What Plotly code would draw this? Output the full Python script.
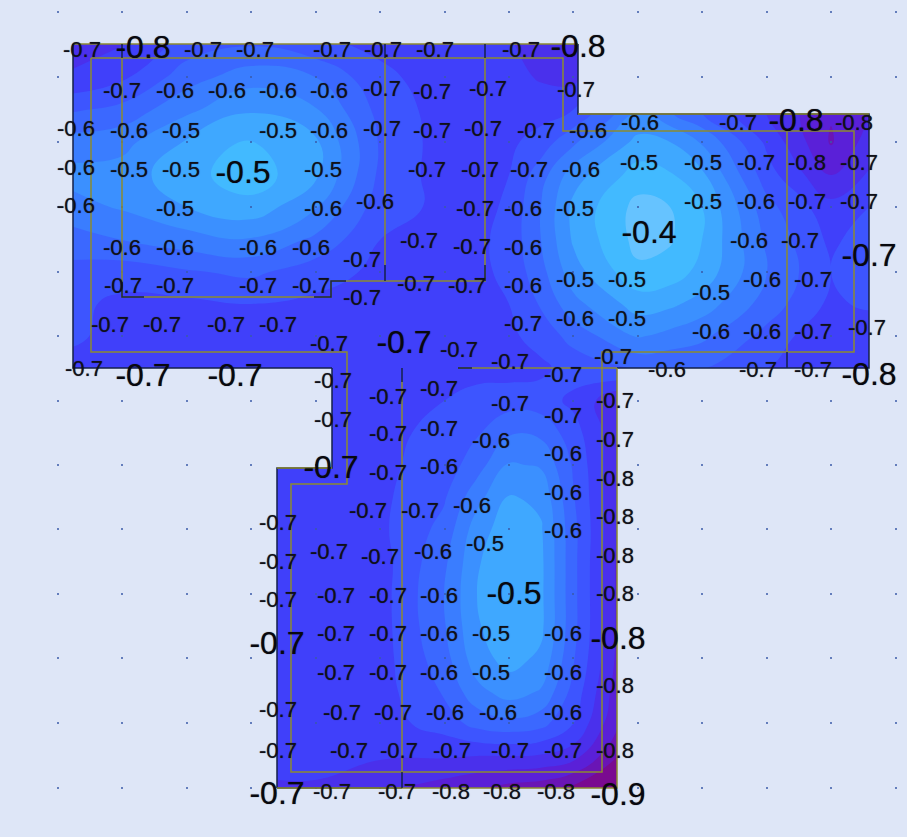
import plotly.graph_objects as go

# Field grid
grid_x = [73, 122, 187, 251, 315, 380, 444, 477, 509, 541, 573, 638, 670, 702, 767, 831, 869]
grid_y = [44, 77, 110, 142, 175, 207, 240, 272, 304, 336, 368, 401, 433, 465, 498, 530, 562, 595, 627, 660, 692, 724, 756, 788]
field_z = [
    [-.75, -.74, -.67, -.65, -.68, -.70, -.71, -.72, -.73, -.76, -.77, -.60, -.62, -.68, -.75, -.81, -.80],
    [-.73, -.70, -.62, -.575, -.60, -.68, -.71, -.71, -.72, -.74, -.75, -.58, -.60, -.66, -.75, -.81, -.79],
    [-.65, -.63, -.565, -.515, -.55, -.66, -.71, -.71, -.71, -.71, -.69, -.56, -.60, -.65, -.74, -.82, -.78],
    [-.58, -.57, -.505, -.46, -.50, -.65, -.71, -.71, -.70, -.67, -.61, -.495, -.51, -.56, -.70, -.83, -.76],
    [-.54, -.535, -.48, -.44, -.50, -.655, -.71, -.71, -.69, -.62, -.53, -.445, -.46, -.50, -.67, -.78, -.73],
    [-.57, -.55, -.51, -.48, -.55, -.67, -.70, -.71, -.68, -.60, -.50, -.405, -.42, -.465, -.63, -.72, -.69],
    [-.62, -.60, -.575, -.56, -.61, -.69, -.70, -.70, -.675, -.60, -.505, -.405, -.415, -.465, -.61, -.70, -.665],
    [-.66, -.67, -.65, -.635, -.67, -.70, -.70, -.70, -.68, -.615, -.53, -.43, -.44, -.48, -.60, -.69, -.66],
    [-.68, -.70, -.70, -.69, -.70, -.70, -.70, -.70, -.69, -.64, -.57, -.49, -.50, -.53, -.62, -.70, -.68],
    [-.68, -.71, -.71, -.71, -.71, -.70, -.70, -.70, -.70, -.67, -.63, -.55, -.57, -.59, -.66, -.73, -.73],
    [-.71, -.72, -.72, -.72, -.71, -.70, -.70, -.70, -.71, -.70, -.67, -.64, -.64, -.64, -.69, -.72, -.73],
    [-.72, -.72, -.72, -.70, -.70, -.70, -.69, -.68, -.665, -.67, -.70, -.80, -.85, -.85, -.85, -.85, -.85],
    [-.72, -.72, -.72, -.70, -.70, -.70, -.68, -.65, -.605, -.61, -.67, -.81, -.85, -.85, -.85, -.85, -.85],
    [-.72, -.72, -.72, -.70, -.70, -.70, -.67, -.62, -.55, -.56, -.65, -.83, -.85, -.85, -.85, -.85, -.85],
    [-.72, -.72, -.72, -.70, -.70, -.70, -.65, -.57, -.505, -.52, -.64, -.84, -.85, -.85, -.85, -.85, -.85],
    [-.72, -.72, -.72, -.70, -.70, -.70, -.63, -.53, -.485, -.505, -.63, -.85, -.85, -.85, -.85, -.85, -.85],
    [-.72, -.72, -.72, -.70, -.70, -.71, -.61, -.515, -.475, -.50, -.63, -.86, -.85, -.85, -.85, -.85, -.85],
    [-.72, -.72, -.72, -.70, -.70, -.71, -.60, -.51, -.475, -.50, -.63, -.86, -.85, -.85, -.85, -.85, -.85],
    [-.72, -.72, -.72, -.70, -.70, -.71, -.605, -.515, -.48, -.50, -.63, -.86, -.85, -.85, -.85, -.85, -.85],
    [-.72, -.72, -.72, -.70, -.70, -.71, -.62, -.53, -.495, -.52, -.64, -.86, -.85, -.85, -.85, -.85, -.85],
    [-.72, -.72, -.72, -.70, -.70, -.71, -.64, -.57, -.535, -.56, -.66, -.87, -.85, -.85, -.85, -.85, -.85],
    [-.72, -.72, -.72, -.71, -.71, -.71, -.67, -.63, -.615, -.63, -.69, -.88, -.85, -.85, -.85, -.85, -.85],
    [-.72, -.72, -.72, -.72, -.72, -.73, -.73, -.735, -.735, -.74, -.76, -.92, -.85, -.85, -.85, -.85, -.85],
    [-.72, -.72, -.72, -.74, -.74, -.77, -.80, -.82, -.84, -.85, -.88, -.98, -.85, -.85, -.85, -.85, -.85],
]
band_colors = ["#7a0a90", "#6a15b5", "#5a20d8", "#4a30ec", "#4040fa", "#3d55ff",
               "#3b68ff", "#3a7dff", "#3b90ff", "#3fa8ff", "#42baff", "#66c3ff"]

# Regions outside the slab outline
outside_x = [578, 871, 871, 578, 578, None, 617, 871, 871, 617, 617, None,
             275, 332, 332, 275, 275, None, 71, 277, 277, 71, 71]
outside_y = [42, 42, 114, 114, 42, None, 368, 368, 790, 790, 368, None,
             368, 368, 468, 468, 368, None, 368, 368, 790, 790, 368]

# Outline parts
dark_x = [578, 578, 869, 869, 617, None, 332, 73, 73, None, 332, 332, 277, 277, None, 277, 402]
dark_y = [44, 114, 114, 368, 368, None, 368, 368, 44, None, 368, 468, 468, 788, None, 788, 788]
olive_outer_x = [73, 578, None, 578, 869, None, 617, 617, 277, None, 277, 332, None, 458, 617]
olive_outer_y = [44, 44, None, 114, 114, None, 368, 788, 788, None, 468, 468, None, 368, 368]
inner_x = [91, 563, 563, 854, 854, 602, 602, 291, 291, 347, 347, 91, 91]
inner_y = [58, 58, 131, 131, 352, 352, 772, 772, 484, 484, 352, 352, 58]
wall_x = [122, 122, 331, 331, 485, 485, None, 385, 385, None, 402, 402, None, 787, 787]
wall_y = [58, 297, 297, 281, 281, 58, None, 58, 265, None, 380, 772, None, 131, 352]
tick_x = [122, 122, None, 122, 122, 144, None, 314, 331, 331, 346, None, 385, 385, None, 485, 485, None,
          385, 385, None, 485, 485, None, 787, 787, None, 402, 402, None, 402, 402, None, 458, 472]
tick_y = [44, 58, None, 282, 297, 297, None, 297, 297, 281, 281, None, 44, 58, None, 44, 58, None,
          265, 281, None, 265, 281, None, 352, 368, None, 368, 382, None, 772, 788, None, 368, 368]

# Background lattice
lattice_x = [58, 122, 187, 251, 316, 380, 445, 509, 573, 638, 702, 767, 831, 896]
lattice_y = [12, 77, 142, 207, 272, 336, 401, 465, 529, 594, 658, 723, 788]

# Small value labels
small_x = [82, 203, 255, 332, 383, 435, 521,
           122, 175, 227, 278, 329, 382, 432, 488, 576,
           76, 129, 181, 278, 329, 382, 432, 483, 536, 588, 640, 738, 854,
           76, 129, 181, 323, 427, 480, 529, 581, 639, 703, 756, 807, 859,
           76, 175, 323, 375, 475, 523, 575, 703, 756, 807, 859,
           122, 175, 258, 311, 419, 472, 523, 749, 800,
           123, 175, 258, 311, 362, 416, 467, 523, 575, 627, 711, 762, 813, 362,
           110, 162, 226, 278, 523, 575, 627, 711, 762, 813, 867,
           329, 459, 510, 613, 563, 667, 758, 813, 84, 333,
           388, 439, 510, 563, 615, 333, 388, 439, 491, 563, 615,
           388, 439, 615, 563, 368, 420, 472, 563, 615,
           278, 329, 380, 433, 485, 615, 278,
           278, 336, 388, 439, 615,
           336, 388, 439, 491, 563,
           336, 388, 439, 491, 563, 615,
           278, 342, 393, 445, 498, 563,
           278, 349, 399, 452, 510, 563, 615,
           332, 397, 451, 502, 556]
small_y = [51, 51, 51, 51, 51, 51, 51,
           92, 92, 92, 92, 92, 90, 93, 90, 91,
           130, 132, 132, 132, 132, 130, 132, 130, 132, 132, 124, 124, 124,
           169, 171, 171, 171, 171, 171, 171, 171, 164, 164, 164, 164, 164,
           207, 210, 210, 203, 210, 210, 210, 203, 203, 203, 203,
           249, 249, 249, 249, 242, 248, 249, 242, 242,
           287, 287, 287, 287, 261, 285, 287, 287, 281, 281, 294, 281, 281, 299,
           326, 326, 326, 326, 325, 320, 320, 333, 333, 333, 329,
           345, 351, 363, 358, 376, 371, 371, 371, 370, 382,
           398, 390, 405, 417, 402, 421, 435, 430, 442, 455, 441,
           474, 468, 480, 494, 512, 512, 507, 532, 518,
           524, 553, 558, 553, 545, 557, 563,
           601, 597, 597, 597, 595,
           635, 635, 635, 635, 635,
           674, 674, 674, 674, 674, 687,
           711, 714, 714, 714, 714, 714,
           752, 752, 752, 752, 752, 752, 752,
           793, 793, 793, 793, 793]
small_text = ["-0.7", "-0.7", "-0.7", "-0.7", "-0.7", "-0.7", "-0.7",
              "-0.7", "-0.6", "-0.6", "-0.6", "-0.6", "-0.7", "-0.7", "-0.7", "-0.7",
              "-0.6", "-0.6", "-0.5", "-0.5", "-0.6", "-0.7", "-0.7", "-0.7", "-0.7", "-0.6", "-0.6", "-0.7", "-0.8",
              "-0.6", "-0.5", "-0.5", "-0.5", "-0.7", "-0.7", "-0.7", "-0.6", "-0.5", "-0.5", "-0.7", "-0.8", "-0.7",
              "-0.6", "-0.5", "-0.6", "-0.6", "-0.7", "-0.6", "-0.5", "-0.5", "-0.6", "-0.7", "-0.7",
              "-0.6", "-0.6", "-0.6", "-0.6", "-0.7", "-0.7", "-0.6", "-0.6", "-0.7",
              "-0.7", "-0.7", "-0.7", "-0.7", "-0.7", "-0.7", "-0.7", "-0.6", "-0.5", "-0.5", "-0.5", "-0.6", "-0.7", "-0.7",
              "-0.7", "-0.7", "-0.7", "-0.7", "-0.7", "-0.6", "-0.5", "-0.6", "-0.6", "-0.7", "-0.7",
              "-0.7", "-0.7", "-0.7", "-0.7", "-0.7", "-0.6", "-0.7", "-0.7", "-0.7", "-0.7",
              "-0.7", "-0.7", "-0.7", "-0.7", "-0.7", "-0.7", "-0.7", "-0.7", "-0.6", "-0.6", "-0.7",
              "-0.7", "-0.6", "-0.8", "-0.6", "-0.7", "-0.7", "-0.6", "-0.6", "-0.8",
              "-0.7", "-0.7", "-0.7", "-0.6", "-0.5", "-0.8", "-0.7",
              "-0.7", "-0.7", "-0.7", "-0.6", "-0.8",
              "-0.7", "-0.7", "-0.6", "-0.5", "-0.6",
              "-0.7", "-0.7", "-0.6", "-0.5", "-0.6", "-0.8",
              "-0.7", "-0.7", "-0.7", "-0.6", "-0.6", "-0.6",
              "-0.7", "-0.7", "-0.7", "-0.7", "-0.7", "-0.7", "-0.8",
              "-0.7", "-0.7", "-0.8", "-0.8", "-0.8"]

# Large value labels
large_x = [143, 578, 796, 243, 649, 869, 404, 143, 235, 869, 331, 514, 277, 618, 277, 618]
large_y = [50, 49, 123, 175, 235, 258, 345, 378, 378, 377, 470, 596, 646, 641, 796, 797]
large_text = ["-0.8", "-0.8", "-0.8", "-0.5", "-0.4", "-0.7", "-0.7", "-0.7", "-0.7", "-0.8",
              "-0.7", "-0.5", "-0.7", "-0.8", "-0.7", "-0.9"]

BG = "#dee6f7"
OLIVE = "#8c8a30"
DARK = "#14204a"
n = len(band_colors)

fig = go.Figure()
fig.add_trace(go.Contour(
    x=grid_x, y=grid_y, z=field_z, showscale=False, hoverinfo="skip",
    autocontour=False,
    contours=dict(start=-0.87, end=-0.42, size=0.045, coloring="fill", showlines=False),
    line=dict(width=0, smoothing=1.3),
    colorscale=[[i / (n - 1), c] for i, c in enumerate(band_colors)],
))
fig.add_trace(go.Scatter(x=outside_x, y=outside_y, mode="lines", fill="toself", fillcolor=BG,
                         line=dict(width=0, color=BG), hoverinfo="skip"))
lx = [x for _ in lattice_y for x in lattice_x]
ly = [y for y in lattice_y for _ in lattice_x]
fig.add_trace(go.Scatter(x=lx, y=ly, mode="markers", marker=dict(size=2, color="#3a5aa8"), hoverinfo="skip"))
fig.add_trace(go.Scatter(x=dark_x, y=dark_y, mode="lines", line=dict(color=DARK, width=1.5), hoverinfo="skip"))
fig.add_trace(go.Scatter(x=olive_outer_x, y=olive_outer_y, mode="lines", line=dict(color=OLIVE, width=1.5), hoverinfo="skip"))
fig.add_trace(go.Scatter(x=inner_x, y=inner_y, mode="lines", line=dict(color=OLIVE, width=1.5), hoverinfo="skip"))
fig.add_trace(go.Scatter(x=wall_x, y=wall_y, mode="lines", line=dict(color=OLIVE, width=1.5), hoverinfo="skip"))
fig.add_trace(go.Scatter(x=tick_x, y=tick_y, mode="lines", line=dict(color=DARK, width=1.5), hoverinfo="skip"))
fig.add_trace(go.Scatter(x=small_x, y=small_y, text=small_text, mode="text", hoverinfo="skip",
                         textposition="middle center",
                         textfont=dict(family="Liberation Sans", size=22, color="#101018",
                                       shadow="0 0 1px rgba(0,0,0,0.6)")))
fig.add_trace(go.Scatter(x=large_x, y=large_y, text=large_text, mode="text", hoverinfo="skip",
                         textposition="middle center",
                         textfont=dict(family="Liberation Sans", size=32, color="#08080e",
                                       shadow="0 0 1px rgba(0,0,0,0.6)")))
fig.update_layout(
    width=907, height=837, showlegend=False,
    paper_bgcolor=BG, plot_bgcolor=BG,
    margin=dict(l=0, r=0, t=0, b=0),
    xaxis=dict(range=[0, 907], visible=False, fixedrange=True),
    yaxis=dict(range=[837, 0], visible=False, fixedrange=True),
)
fig.write_html("out.html", post_script="document.body.style.margin='0';", config={"displayModeBar": False})
